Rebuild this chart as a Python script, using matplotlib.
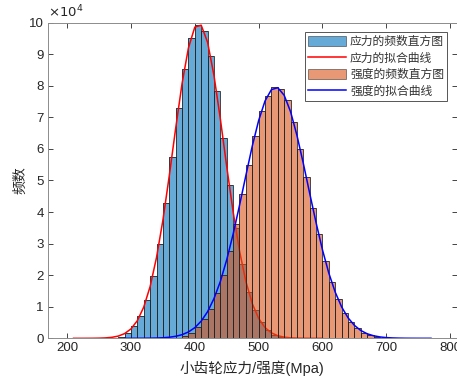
import numpy as np
import matplotlib.pyplot as plt
from matplotlib.patches import Patch
from matplotlib.lines import Line2D

plt.rcParams['font.family'] = ['Liberation Sans', 'Noto Sans CJK SC']
plt.rcParams['axes.unicode_minus'] = False

# bin width 10 MPa, counts in units of 1e4
bin_w = 10
stress_left = np.arange(270, 550, bin_w)
stress_counts = [0.01, 0.04, 0.18, 0.38, 0.72, 1.20, 1.96, 2.98, 4.29, 5.75,
                 7.31, 8.54, 9.52, 9.92, 9.74, 8.96, 7.84, 6.36, 4.85, 3.51,
                 2.37, 1.47, 0.89, 0.52, 0.25, 0.10, 0.03, 0.01]

strength_left = np.arange(370, 710, bin_w)
strength_counts = [0.02, 0.07, 0.17, 0.36, 0.62, 0.94, 1.42, 2.00, 2.76, 3.62,
                   4.58, 5.50, 6.40, 7.20, 7.67, 7.95, 7.91, 7.55, 6.85, 6.01,
                   5.11, 4.14, 3.30, 2.45, 1.77, 1.23, 0.81, 0.52, 0.32, 0.18,
                   0.10, 0.05, 0.02, 0.01]

# fitted curves
stress_fit_x = np.arange(210, 610, 10)
stress_fit_y = [0.0001, 0.0002, 0.0006, 0.0018, 0.005, 0.013, 0.031, 0.070,
                0.149, 0.298, 0.560, 0.989, 1.64, 2.56, 3.74, 5.15, 6.65, 8.07,
                9.20, 9.86, 9.92, 9.38, 8.33, 6.95, 5.44, 4.01, 2.77, 1.80,
                1.10, 0.630, 0.339, 0.172, 0.082, 0.0365, 0.0153, 0.006,
                0.0022, 0.0008, 0.0003, 0.0001]

strength_fit_x = np.arange(290, 780, 10)
strength_fit_y = [0.0001, 0.0003, 0.0008, 0.0018, 0.0039, 0.0084, 0.0171,
                  0.0336, 0.0634, 0.115, 0.201, 0.337, 0.544, 0.843, 1.258,
                  1.80, 2.49, 3.30, 4.21, 5.16, 6.09, 6.90, 7.52, 7.88, 7.94,
                  7.70, 7.18, 6.43, 5.54, 4.59, 3.66, 2.80, 2.06, 1.46, 0.994,
                  0.651, 0.410, 0.248, 0.144, 0.081, 0.0435, 0.0225, 0.0112,
                  0.0054, 0.0025, 0.0011, 0.0005, 0.0002, 0.0001]

blue = (0, 0.447, 0.741)
orange = (0.85, 0.325, 0.098)
edge = (0.15, 0.15, 0.15)

fig = plt.figure(figsize=(4.57, 3.78), dpi=100)
ax = fig.add_axes([0.105, 0.105, 0.894, 0.835])

ax.bar(stress_left, stress_counts, width=bin_w, align='edge', color=blue,
       alpha=0.6, edgecolor='none', zorder=2)
ax.bar(stress_left, stress_counts, width=bin_w, align='edge', fill=False,
       edgecolor=edge, linewidth=0.6, zorder=2.1)
ax.plot(stress_fit_x, stress_fit_y, color='red', lw=1.1, zorder=3)
ax.bar(strength_left, strength_counts, width=bin_w, align='edge', color=orange,
       alpha=0.6, edgecolor='none', zorder=4)
ax.bar(strength_left, strength_counts, width=bin_w, align='edge', fill=False,
       edgecolor=edge, linewidth=0.6, zorder=4.1)
ax.plot(strength_fit_x, strength_fit_y, color='blue', lw=1.1, zorder=5)

ax.set_xlim(170, 810)
ax.set_ylim(0, 10)
ax.set_xticks(range(200, 900, 100))
ax.set_yticks(range(0, 11))
ax.tick_params(direction='in', top=True, right=True, length=3.5, width=0.6,
               labelsize=9.5, colors='#262626', pad=3)
for s in ax.spines.values():
    s.set_color('#8c8c8c')
    s.set_linewidth(0.7)

ax.text(0.0, 1.006, r'$\times10^{4}$', transform=ax.transAxes, fontsize=9.5,
        ha='left', va='bottom', color='#262626')

ax.set_xlabel('小齿轮应力/强度(Mpa)', fontsize=10.5, labelpad=4, color='#262626')
ax.set_ylabel('频数', fontsize=10, labelpad=1, color='#262626')

handles = [Patch(facecolor=blue, alpha=0.6, edgecolor=edge, linewidth=0.6),
           Line2D([], [], color='red', lw=1.1),
           Patch(facecolor=orange, alpha=0.6, edgecolor=edge, linewidth=0.6),
           Line2D([], [], color='blue', lw=1.1)]
labels = ['应力的频数直方图', '应力的拟合曲线', '强度的频数直方图', '强度的拟合曲线']
leg = ax.legend(handles, labels, loc='upper right',
                bbox_to_anchor=(447 / 457, 1 - 32 / 378),
                bbox_transform=fig.transFigure, borderaxespad=0,
                fancybox=False, framealpha=1, edgecolor='#555555',
                prop={'family': 'Noto Sans CJK SC', 'size': 8.5},
                handlelength=3.2, handleheight=0.9, handletextpad=0.35,
                borderpad=0.25, labelspacing=0.3)
leg.get_frame().set_linewidth(0.7)
for t in leg.get_texts():
    t.set_color('#333333')

fig.savefig('out.png', dpi=100)
